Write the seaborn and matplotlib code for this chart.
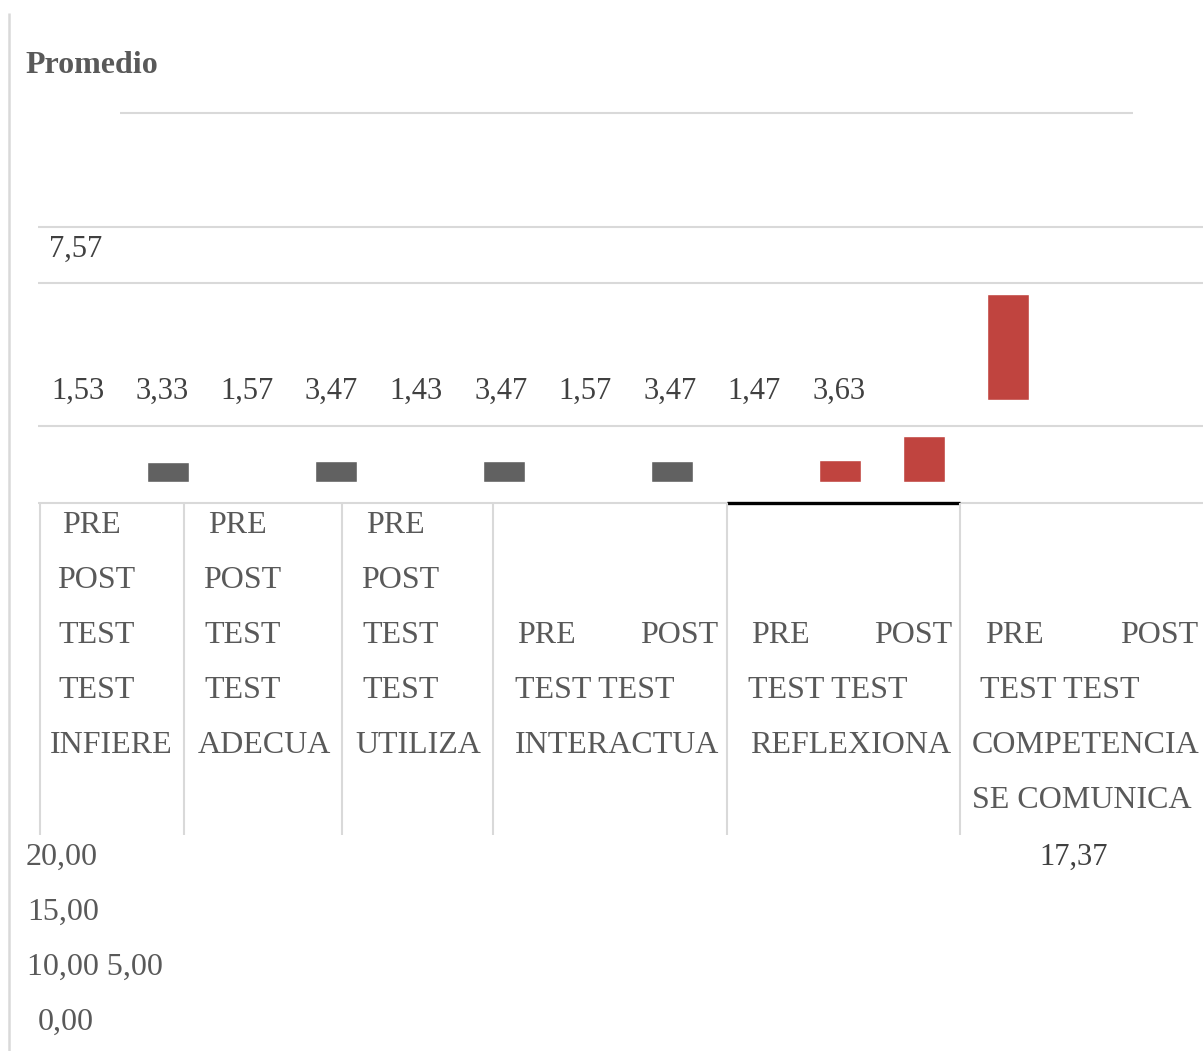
import matplotlib
matplotlib.use("Agg")
import matplotlib.pyplot as plt
from matplotlib.lines import Line2D
import seaborn as sns
import pandas as pd

# ---------------- data ----------------
categorias = ["INFIERE", "ADECUA", "UTILIZA", "INTERACTUA", "REFLEXIONA",
              "COMPETENCIA SE COMUNICA"]
pre_test = [1.53, 1.57, 1.43, 1.57, 1.47, 7.57]
post_test = [3.33, 3.47, 3.47, 3.47, 3.63, 17.37]
ticks_y = ["20,00", "15,00", "10,00 5,00", "0,00"]
titulo = "Promedio"

# ---------------- figure ----------------
W, H = 1203, 1051
sns.set_theme(style="white")
plt.rcParams["font.family"] = ["Liberation Serif", "DejaVu Serif"]
fig = plt.figure(figsize=(W / 100, H / 100), dpi=100)
fig.patch.set_facecolor("white")

GRID = "#d9d9d9"
TXT = "#595959"
NUM = "#404040"
GRIS = "#616161"
ROJO = "#c0443f"


def fx(x):
    return x / W


def fy(y):
    return 1 - y / H


def hline(y, x0, x1, color=GRID, lw=1.5):
    fig.add_artist(Line2D([fx(x0), fx(x1)], [fy(y), fy(y)], color=color, lw=lw,
                          transform=fig.transFigure, solid_capstyle="butt"))


def vline(x, y0, y1, color=GRID, lw=1.5):
    fig.add_artist(Line2D([fx(x), fx(x)], [fy(y0), fy(y1)], color=color, lw=lw,
                          transform=fig.transFigure, solid_capstyle="butt"))


def txt(x, y, s, color=TXT, size=23, ha="left", weight="normal"):
    fig.text(fx(x), fy(y), s, color=color, fontsize=size, ha=ha, va="baseline",
             fontweight=weight)


# frame & gridlines
vline(9, 13, H, lw=1.8)
hline(113, 120, 1133)
for yy in (227, 283, 426, 503):
    hline(yy, 38, W)
hline(503, 727, 960, color="black", lw=2.4)
for xx in (40, 184, 342, 493, 727, 960):
    vline(xx, 503, 835)

# ---------------- bars (seaborn) ----------------
rows = []
for c, p, q in zip(categorias, pre_test, post_test):
    rows.append({"barra": c + " PRE", "valor": p, "serie": "pre"})
    rows.append({"barra": c + " POST", "valor": q, "serie": "post"})
df = pd.DataFrame(rows)
orden = list(df["barra"])
n = len(categorias)
color_barra = {}
for i, c in enumerate(categorias):
    color_barra[c + " PRE"] = ROJO if i == n - 1 else None
    color_barra[c + " POST"] = ROJO if i >= n - 2 else GRIS
df["color"] = df["barra"].map(lambda b: "rojo" if color_barra[b] == ROJO
                              else ("gris" if color_barra[b] == GRIS else "oculto"))
visibles = df[df["color"] != "oculto"]
ultimo = orden[-1]
capa_baja = visibles[visibles["barra"] != ultimo]
capa_alta = visibles[visibles["barra"] == ultimo]

PX_UNIT = 6.1
SLOT = 84.0
paleta = {"gris": GRIS, "rojo": ROJO}


def make_ax(base_px, height_px):
    ax = fig.add_axes([0, fy(base_px), 1, height_px / H])
    ax.set_facecolor("none")
    return ax


ax1 = make_ax(482, 200)
sns.barplot(data=capa_baja, x="barra", y="valor", hue="color", order=orden,
            palette=paleta, dodge=False, saturation=1, width=0.51,
            legend=False, ax=ax1, errorbar=None)
ax1.set_ylim(0, 200 / PX_UNIT)

ax2 = make_ax(400, 120)
sns.barplot(data=capa_alta, x="barra", y="valor", hue="color", order=orden,
            palette=paleta, dodge=False, saturation=1, width=0.51,
            legend=False, ax=ax2, errorbar=None)
ax2.set_ylim(0, 120 / PX_UNIT)

for ax in (ax1, ax2):
    ax.set_xlim(-1, W / SLOT - 1)
    ax.axis("off")

# ---------------- texts ----------------
txt(25, 73, titulo, size=23, weight="bold")

def fmt(v):
    return f"{v:.2f}".replace(".", ",")

txt(49, 257, fmt(pre_test[-1]), color=NUM, size=22)
k = 0
for p, q in zip(pre_test[:-1], post_test[:-1]):
    txt(51 + 84.6 * k, 399, fmt(p), color=NUM, size=22)
    k += 1
    txt(51 + 84.6 * k, 399, fmt(q), color=NUM, size=22)
    k += 1
txt(1039, 865, fmt(post_test[-1]), color=NUM, size=22)

# table: narrow columns (stacked words)
base = [533, 588, 643, 698, 753, 808]
narrow_x = [(62, 57, 50), (208, 203, 198), (366, 361, 355)]
for (xp, xt, xc), c in zip(narrow_x, categorias[:3]):
    txt(xp, base[0], "PRE")
    txt(xt, base[1], "POST")
    txt(xt + 1, base[2], "TEST")
    txt(xt + 1, base[3], "TEST")
    txt(xc, base[4], c)

# wide columns
wide = [(517, 718, 515, 515), (751, 952, 748, 750), (985, 1198, 980, 972)]
for (xp, xpost, xt, xc), c in zip(wide, categorias[3:]):
    txt(xp, base[2], "PRE")
    txt(xpost, base[2], "POST", ha="right")
    txt(xt, base[3], "TEST TEST")
    words = c.split(" ")
    if len(words) > 1:
        txt(xc, base[4], words[0])
        txt(xc, base[5], " ".join(words[1:]))
    else:
        txt(xc, base[4], c)

# y-axis tick labels (scattered)
tick_pos = [(26, 865), (27, 920), (27, 975), (38, 1030)]
for (x, y), s in zip(tick_pos, ticks_y):
    txt(x, y, s)

fig.savefig("out.png", dpi=100, facecolor="white")
